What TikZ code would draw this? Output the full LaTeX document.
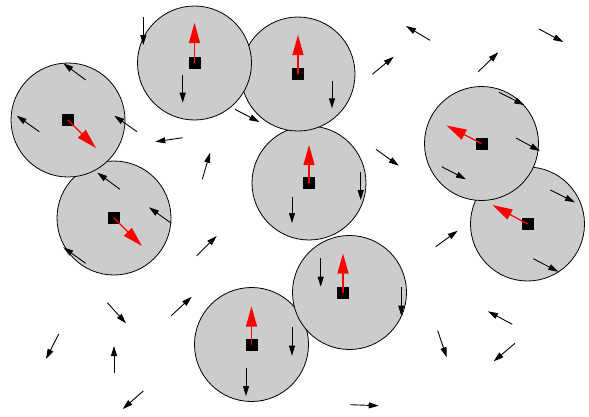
\documentclass[tikz,border=0pt]{standalone}
\usepackage{tikz}
\usetikzlibrary{arrows.meta,positioning}

\begin{document}
\begin{tikzpicture}[x=1pt,y=-1pt,
  disk/.style={circle, draw, line width=0.8pt, fill=black!20, minimum size=114pt, inner sep=0pt, outer sep=0pt},
  cell/.style={fill=black, minimum size=12pt, inner sep=0pt},
  drift/.style={red, line width=1.2pt, -{Triangle[length=20pt,width=11pt]}},
  kick/.style={line width=0.9pt, -{Triangle[length=10pt,width=6pt]}}]

  \useasboundingbox (0,0) rectangle (589,416);

  \node(D)[disk] at (309,183)   {};
  \node(C)[disk] at (298,74)    {};
  \node(B)[disk] at (194.5,63)  {};
  \node(E)[disk] at (114,218)   {};
  \node(A)[disk] at (68,120)    {};
  \node(F)[disk] at (251.5,344.5) {};
  \node(G)[disk] at (349.5,292.5) {};
  \node(I)[disk] at (527.5,224) {};
  \node(H)[disk] at (481.5,143.5) {};

  \node(a)[cell] at (A) {};
  \node(b)[cell] at (B) {};
  \node(c)[cell] at (C) {};
  \node(d)[cell] at (D) {};
  \node(e)[cell] at (E) {};
  \node(f)[cell] at (F) {};
  \node(g)[cell,xshift=-6.5pt] at (G) {};
  \node(h)[cell] at (H) {};
  \node(i)[cell] at (I) {};

  \draw[drift] (a.center) -- +(28,28);
  \draw[drift] (b.center) -- +(0,-40);
  \draw[drift] (c.center) -- +(0,-39);
  \draw[drift] (d.center) -- +(0,-38);
  \draw[drift] (e.center) -- +(28,28);
  \draw[drift] (f.center) -- +(0,-38);
  \draw[drift] (g.center) -- +(0,-39);
  \draw[drift] (h.center) -- +(-35,-18);
  \draw[drift] (i.center) -- +(-35,-19);

  % upper left
  \draw[kick] (143.3,17.3) -- (143.3,45);
  \draw[kick] (182.7,75) -- (182.7,102.7);
  \draw[kick] (85.7,80) -- (63.3,63.3);
  \draw[kick] (39.3,131.7) -- (16.7,115.7);
  \draw[kick] (137,131.7) -- (114.3,115.7);
  \draw[kick] (182.7,137.7) -- (155.3,141.7);
  \draw[kick] (202.3,179.3) -- (210,152.7);
  \draw[kick] (235,109.3) -- (259.3,122);
  \draw[kick] (120,189.3) -- (97.3,172.7);
  \draw[kick] (292,196.7) -- (292,223);

  % upper right
  \draw[kick] (430,40.3) -- (406,26);
  \draw[kick] (539,29) -- (563.3,42);
  \draw[kick] (372.3,74.3) -- (393.7,56.7);
  \draw[kick] (478.3,71.7) -- (498.3,52.3);
  \draw[kick] (332,80.7) -- (332,108.3);
  \draw[kick] (499,92.3) -- (524.3,105);
  \draw[kick] (516,138) -- (540,151);
  \draw[kick] (441.7,166.7) -- (466,179.3);
  \draw[kick] (376,149.3) -- (398.7,165.7);
  \draw[kick] (360.7,172.3) -- (360.7,200);
  \draw[kick] (550.3,190) -- (575,202.3);

  % lower left
  \draw[kick] (171.3,223.3) -- (149,207.3);
  \draw[kick] (85.7,263.3) -- (63.3,247.3);
  \draw[kick] (196.7,255.7) -- (216.7,236);
  \draw[kick] (107.3,302.7) -- (126,323.3);
  \draw[kick] (171.3,315.7) -- (191.7,296.7);
  \draw[kick] (58.7,334) -- (46,359);
  \draw[kick] (114,373.3) -- (114,346);
  \draw[kick] (143.3,391) -- (122.7,409);
  \draw[kick] (292,327.3) -- (292,355.7);
  \draw[kick] (246,367.7) -- (246,396);

  % lower right
  \draw[kick] (435.7,246.7) -- (457.7,230.7);
  \draw[kick] (533.3,258.7) -- (558.3,271.7);
  \draw[kick] (320.7,258.3) -- (320.7,286.7);
  \draw[kick] (401.3,287.3) -- (401.3,315.7);
  \draw[kick] (512.3,324.3) -- (488,311.3);
  \draw[kick] (437.7,330.7) -- (446.7,357.3);
  \draw[kick] (515,343.3) -- (493.7,361.3);
  \draw[kick] (350.3,404.7) -- (378.7,405.7);
\end{tikzpicture}
\end{document}
